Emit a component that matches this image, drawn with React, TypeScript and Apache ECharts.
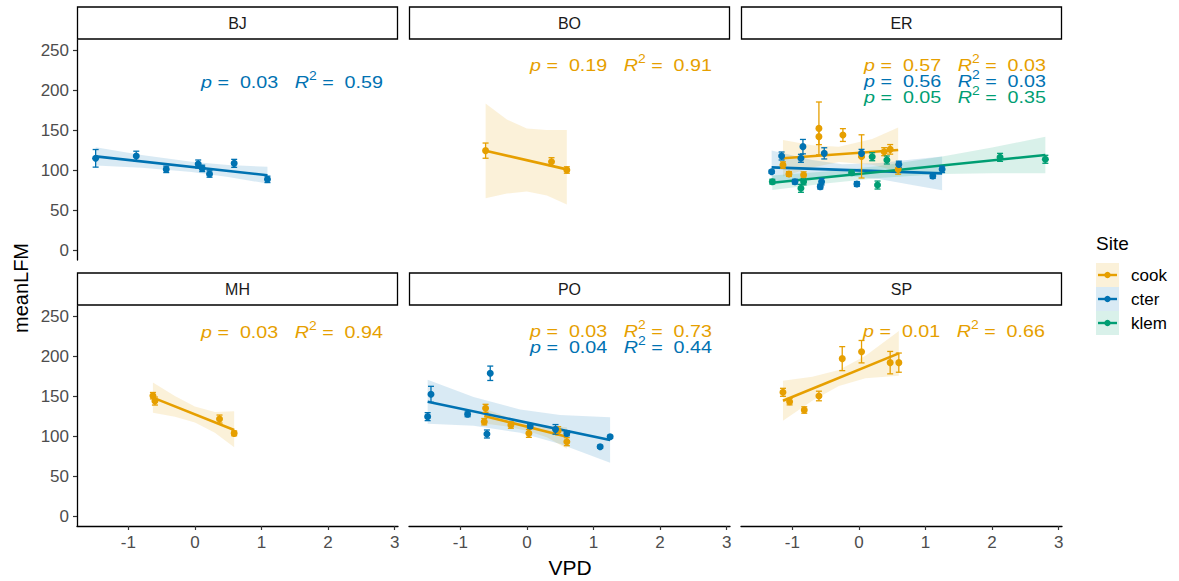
import React, { useEffect, useRef } from "react";
import * as echarts from "echarts";

const FONT = "'Liberation Sans', Arial, sans-serif";
const siteNames = ["cook", "cter", "klem"];
const siteColors = ["#E69F00", "#0072B2", "#009E73"];
const siteFills = ["rgba(230,159,0,0.15)", "rgba(0,114,178,0.15)", "rgba(0,158,115,0.15)"];
const panelNames = ["BJ", "BO", "ER", "MH", "PO", "SP"];
const xTicks = [-1, 0, 1, 2, 3];
const yTicks = [0, 50, 100, 150, 200, 250];

// ---- BJ / cter
const bjCterX = [-1.49, -0.88, -0.43, 0.05, 0.11, 0.22, 0.59, 1.09];
const bjCterY = [114.6, 117.5, 100.8, 107.5, 102, 95, 108.3, 88.3];
const bjCterSe = [11, 6, 4, 5, 4, 4, 5, 4];
const bjCterFitX = [-1.49, 1.09];
const bjCterFitY = [117, 93.5];
const bjCterBandX = [-1.49, -0.8, -0.05, 0.5, 1.09];
const bjCterBandLo = [105.5, 102.7, 97.4, 91.4, 83];
const bjCterBandHi = [128.5, 118.7, 110.4, 106.4, 104];

// ---- BO / cook
const boCookX = [-0.62, 0.37, 0.6];
const boCookY = [124.2, 110.4, 100];
const boCookSe = [9.5, 5, 4];
const boCookFitX = [-0.62, 0.6];
const boCookFitY = [124, 100.8];
const boCookBandX = [-0.62, -0.3, 0.0, 0.3, 0.6];
const boCookBandLo = [64.6, 70.5, 73, 68, 57];
const boCookBandHi = [183, 163, 152, 150, 150];

// ---- ER / cook
const erCookX = [-1.14, -1.05, -0.83, -0.6, -0.6, -0.24, 0.04, 0.38, 0.47, 0.59];
const erCookY = [106.2, 95, 93.7, 152, 141.7, 143.7, 117, 122.9, 125.8, 100.8];
const erCookSe = [4, 3, 4, 33, 10, 8, 27, 5, 6, 6];
const erCookFitX = [-1.14, 0.59];
const erCookFitY = [114.6, 125];
const erCookBandX = [-1.14, -0.7, -0.3, 0.2, 0.59];
const erCookBandLo = [92, 103, 110, 106.6, 98];
const erCookBandHi = [137.5, 131, 129, 138.6, 153];

// ---- ER / cter
const erCterX = [-1.31, -1.16, -0.96, -0.87, -0.84, -0.58, -0.56, -0.52, -0.03, 0.04, 0.6, 1.11, 1.25];
const erCterY = [97.9, 117.5, 85.4, 114.6, 129.2, 79.2, 85.4, 120.8, 82.5, 120.8, 107, 92.5, 100.8];
const erCterSe = [2, 5, 3, 5, 9, 3, 4, 7, 3, 5, 4, 3, 4];
const erCterFitX = [-1.31, 1.25];
const erCterFitY = [103.3, 95.8];
const erCterBandX = [-1.31, -0.7, -0.25, 0.3, 0.8, 1.25];
const erCterBandLo = [82.3, 90.5, 93.2, 88.6, 81.1, 74.8];
const erCterBandHi = [124.3, 112.5, 107.2, 108.6, 113.1, 116.8];

// ---- ER / klem
const erKlemX = [-1.3, -0.87, -0.83, -0.11, 0.2, 0.28, 0.42, 2.12, 2.8];
const erKlemY = [85.4, 77.1, 85.4, 96.6, 116.6, 81.2, 112.5, 115.8, 113.4];
const erKlemSe = [3, 5, 4, 3, 5, 5, 5, 5, 5];
const erKlemFitX = [-1.3, 2.8];
const erKlemFitY = [84.1, 118.75];
const erKlemBandX = [-1.3, -0.5, 0.3, 1.25, 2.0, 2.8];
const erKlemBandLo = [75, 83, 90, 95, 96, 95.8];
const erKlemBandHi = [93, 98, 105, 117, 128, 141.7];

// ---- MH / cook
const mhCookX = [-0.63, -0.6, 0.37, 0.59];
const mhCookY = [150.4, 143.7, 121.2, 103.3];
const mhCookSe = [4, 5, 5, 3];
const mhCookFitX = [-0.63, 0.59];
const mhCookFitY = [148, 107.5];
const mhCookBandX = [-0.63, -0.3, 0.0, 0.3, 0.59];
const mhCookBandLo = [129, 124, 117, 104, 86];
const mhCookBandHi = [167, 150, 137, 130, 131];

// ---- PO / cook
const poCookX = [-0.62, -0.64, -0.24, 0.03, 0.47, 0.6];
const poCookY = [134.6, 117.9, 113.7, 103.3, 106.6, 92.9];
const poCookSe = [5, 4, 4, 5, 5, 5];
const poCookFitX = [-0.64, 0.6];
const poCookFitY = [125, 99.1];
const poCookBandX = [-0.64, -0.3, 0.0, 0.3, 0.6];
const poCookBandLo = [115.5, 111.9, 106.6, 98.4, 84];
const poCookBandHi = [134.5, 123.9, 116.6, 112.4, 111];

// ---- PO / cter
const poCterX = [-1.49, -1.44, -0.89, -0.6, -0.55, 0.05, 0.43, 0.6, 1.1, 1.25];
const poCterY = [124.2, 152.1, 127.1, 102.5, 178.4, 112.5, 108.3, 103.3, 86.6, 99];
const poCterSe = [5, 10, 3, 5, 9, 3, 6, 3, 2, 2];
const poCterFitX = [-1.49, 1.25];
const poCterFitY = [142.9, 95];
const poCterBandX = [-1.49, -0.8, -0.1, 0.5, 1.25];
const poCterBandLo = [115.4, 112.8, 104.1, 90.1, 66.5];
const poCterBandHi = [170.4, 148.8, 133.1, 126.1, 123.5];

// ---- SP / cook
const spCookX = [-1.14, -1.04, -0.82, -0.6, -0.25, 0.04, 0.47, 0.6];
const spCookY = [154.6, 142.9, 132.5, 150, 196.7, 205.4, 191.7, 191.7];
const spCookSe = [5, 4, 4, 6, 15, 14, 14, 12];
const spCookFitX = [-1.14, 0.6];
const spCookFitY = [144, 203.3];
const spCookBandX = [-1.14, -0.7, -0.3, 0.1, 0.6];
const spCookBandLo = [119, 144, 162.6, 172.3, 175.3];
const spCookBandHi = [169, 174, 182.6, 200.3, 231.3];

// ---- stats labels
const statPanel = ["BJ", "BO", "ER", "ER", "ER", "MH", "PO", "PO", "SP"];
const statSite = ["cter", "cook", "cook", "cter", "klem", "cook", "cook", "cter", "cook"];
const statP = ["0.03", "0.19", "0.57", "0.56", "0.05", "0.03", "0.03", "0.04", "0.01"];
const statR2 = ["0.59", "0.91", "0.03", "0.03", "0.35", "0.94", "0.73", "0.44", "0.66"];

type Group = {
  panel: string; site: string;
  x: number[]; y: number[]; se: number[];
  fx: number[]; fy: number[];
  bx: number[]; lo: number[]; hi: number[];
};

const groups: Group[] = [
  { panel: "BJ", site: "cter", x: bjCterX, y: bjCterY, se: bjCterSe, fx: bjCterFitX, fy: bjCterFitY, bx: bjCterBandX, lo: bjCterBandLo, hi: bjCterBandHi },
  { panel: "BO", site: "cook", x: boCookX, y: boCookY, se: boCookSe, fx: boCookFitX, fy: boCookFitY, bx: boCookBandX, lo: boCookBandLo, hi: boCookBandHi },
  { panel: "ER", site: "cook", x: erCookX, y: erCookY, se: erCookSe, fx: erCookFitX, fy: erCookFitY, bx: erCookBandX, lo: erCookBandLo, hi: erCookBandHi },
  { panel: "ER", site: "cter", x: erCterX, y: erCterY, se: erCterSe, fx: erCterFitX, fy: erCterFitY, bx: erCterBandX, lo: erCterBandLo, hi: erCterBandHi },
  { panel: "ER", site: "klem", x: erKlemX, y: erKlemY, se: erKlemSe, fx: erKlemFitX, fy: erKlemFitY, bx: erKlemBandX, lo: erKlemBandLo, hi: erKlemBandHi },
  { panel: "MH", site: "cook", x: mhCookX, y: mhCookY, se: mhCookSe, fx: mhCookFitX, fy: mhCookFitY, bx: mhCookBandX, lo: mhCookBandLo, hi: mhCookBandHi },
  { panel: "PO", site: "cook", x: poCookX, y: poCookY, se: poCookSe, fx: poCookFitX, fy: poCookFitY, bx: poCookBandX, lo: poCookBandLo, hi: poCookBandHi },
  { panel: "PO", site: "cter", x: poCterX, y: poCterY, se: poCterSe, fx: poCterFitX, fy: poCterFitY, bx: poCterBandX, lo: poCterBandLo, hi: poCterBandHi },
  { panel: "SP", site: "cook", x: spCookX, y: spCookY, se: spCookSe, fx: spCookFitX, fy: spCookFitY, bx: spCookBandX, lo: spCookBandLo, hi: spCookBandHi },
];

// layout
const COL_LEFT = [77, 409, 741];
const ROW_TOP = [40, 306];
const PW = 321;
const PH = 220;
const STRIP_TOP = [7, 273];
const STRIP_H = 32;
const X_MIN = -1.77, X_MAX = 3.05, Y_MIN = -12.5, Y_MAX = 262.5;
const statPos: [number, number][] = [
  [383, 82], [712, 65], [1046, 65], [1046, 81], [1046, 97], [383, 332], [712, 331], [712, 347], [1045, 331],
];

function buildOption() {
  const grids: any[] = [];
  const xAxes: any[] = [];
  const yAxes: any[] = [];
  const graphics: any[] = [];
  panelNames.forEach((name, i) => {
    const col = i % 3, row = Math.floor(i / 3);
    grids.push({ left: COL_LEFT[col], top: ROW_TOP[row], width: PW, height: PH });
    const showX = row === 1;
    const showY = col === 0;
    xAxes.push({
      gridIndex: i, type: "value", min: X_MIN, max: X_MAX,
      splitLine: { show: false },
      axisLine: { show: showX, onZero: false, lineStyle: { color: "#000", width: 1.3 } },
      axisTick: { show: showX, customValues: xTicks, length: 4, lineStyle: { color: "#333", width: 1.2 } },
      axisLabel: { show: showX, customValues: xTicks, margin: 8, color: "#4D4D4D", fontSize: 17, fontFamily: FONT },
    });
    yAxes.push({
      gridIndex: i, type: "value", min: Y_MIN, max: Y_MAX,
      splitLine: { show: false },
      axisLine: { show: showY, onZero: false, lineStyle: { color: "#000", width: 1.3 } },
      axisTick: { show: showY, customValues: yTicks, length: 4, lineStyle: { color: "#333", width: 1.2 } },
      axisLabel: { show: showY, customValues: yTicks, margin: 8, color: "#4D4D4D", fontSize: 17, fontFamily: FONT },
    });
    // strip
    graphics.push({
      type: "rect",
      shape: { x: COL_LEFT[col] + 0.5, y: STRIP_TOP[row], width: PW - 1, height: STRIP_H },
      style: { fill: "#fff", stroke: "#000", lineWidth: 1.3 },
    });
    graphics.push({
      type: "text",
      x: COL_LEFT[col] + PW / 2, y: STRIP_TOP[row] + STRIP_H / 2,
      style: { text: name, align: "center", verticalAlign: "middle", fontSize: 16, fontFamily: FONT, fill: "#1a1a1a" },
    });
  });

  const series: any[] = [];
  // bands
  groups.forEach((g) => {
    const gi = panelNames.indexOf(g.panel);
    const si = siteNames.indexOf(g.site);
    const rows = g.bx.map((bx, k) => [bx, g.lo[k], g.hi[k]]);
    series.push({
      type: "custom", xAxisIndex: gi, yAxisIndex: gi, silent: true,
      data: rows, encode: { x: 0, y: [1, 2] },
      renderItem: (params: any, api: any) => {
        if (params.dataIndex !== 0) return null;
        const pts: number[][] = [];
        for (let k = 0; k < g.bx.length; k++) pts.push(api.coord([g.bx[k], g.hi[k]]));
        for (let k = g.bx.length - 1; k >= 0; k--) pts.push(api.coord([g.bx[k], g.lo[k]]));
        return { type: "polygon", shape: { points: pts }, style: { fill: siteFills[si], stroke: "none" } };
      },
      z: 1,
    });
  });
  groups.forEach((g) => {
    const gi = panelNames.indexOf(g.panel);
    const si = siteNames.indexOf(g.site);
    const color = siteColors[si];
    // fit line
    series.push({
      type: "line", xAxisIndex: gi, yAxisIndex: gi, silent: true,
      data: g.fx.map((fx, k) => [fx, g.fy[k]]),
      symbol: "none", lineStyle: { color, width: 2.6 }, z: 3,
    });
    // error bars
    series.push({
      type: "custom", xAxisIndex: gi, yAxisIndex: gi, silent: true,
      data: g.x.map((x, k) => [x, g.y[k], g.se[k]]),
      encode: { x: 0, y: 1 },
      renderItem: (params: any, api: any) => {
        const x = api.value(0), y = api.value(1), se = api.value(2);
        const t = api.coord([x, y + se]);
        const b = api.coord([x, y - se]);
        const w = 3;
        const st = { stroke: color, lineWidth: 1.3 };
        return {
          type: "group",
          children: [
            { type: "line", shape: { x1: t[0], y1: t[1], x2: b[0], y2: b[1] }, style: st },
            { type: "line", shape: { x1: t[0] - w, y1: t[1], x2: t[0] + w, y2: t[1] }, style: st },
            { type: "line", shape: { x1: b[0] - w, y1: b[1], x2: b[0] + w, y2: b[1] }, style: st },
          ],
        };
      },
      z: 4,
    });
    // points
    series.push({
      type: "scatter", xAxisIndex: gi, yAxisIndex: gi, silent: true,
      data: g.x.map((x, k) => [x, g.y[k]]),
      symbol: "circle", symbolSize: 7, itemStyle: { color, opacity: 1 }, z: 5,
    });
  });

  // stats labels
  statPanel.forEach((p, k) => {
    const color = siteColors[siteNames.indexOf(statSite[k])];
    graphics.push({
      type: "text", x: statPos[k][0], y: statPos[k][1], z: 10, scaleX: 1.16,
      style: {
        text: `{i|p}{n| =  ${statP[k]}   }{i|R}{s|2}{n| =  ${statR2[k]}}`,
        align: "right", verticalAlign: "middle",
        rich: {
          i: { fontStyle: "italic", fontSize: 17, fontFamily: FONT, fill: color, lineHeight: 16 },
          n: { fontSize: 17, fontFamily: FONT, fill: color, lineHeight: 16 },
          s: { fontSize: 12, fontFamily: FONT, fill: color, lineHeight: 4, height: 4, verticalAlign: "top" },
        },
      },
    });
  });

  // axis titles
  graphics.push({
    type: "text", x: 570, y: 567,
    style: { text: "VPD", align: "center", verticalAlign: "middle", fontSize: 21, fontFamily: FONT, fill: "#000" },
  });
  graphics.push({
    type: "text", x: 21, y: 288, rotation: Math.PI / 2,
    style: { text: "meanLFM", align: "center", verticalAlign: "middle", fontSize: 20, fontFamily: FONT, fill: "#000" },
  });

  // legend
  graphics.push({
    type: "text", x: 1096, y: 243,
    style: { text: "Site", align: "left", verticalAlign: "middle", fontSize: 19, fontFamily: FONT, fill: "#000" },
  });
  siteNames.forEach((s, k) => {
    const top = 263 + k * 24;
    const cy = top + 12;
    graphics.push({ type: "rect", shape: { x: 1096, y: top, width: 23, height: 24 }, style: { fill: siteFills[k] } });
    graphics.push({ type: "line", shape: { x1: 1098, y1: cy, x2: 1117, y2: cy }, style: { stroke: siteColors[k], lineWidth: 2.4 } });
    graphics.push({ type: "circle", shape: { cx: 1107.5, cy, r: 3.2 }, style: { fill: siteColors[k] } });
    graphics.push({
      type: "text", x: 1131, y: cy,
      style: { text: s, align: "left", verticalAlign: "middle", fontSize: 17, fontFamily: FONT, fill: "#000" },
    });
  });

  return {
    animation: false,
    backgroundColor: "#fff",
    grid: grids,
    xAxis: xAxes,
    yAxis: yAxes,
    series,
    graphic: { elements: graphics },
  };
}

export default function App() {
  const ref = useRef<HTMLDivElement>(null);
  useEffect(() => {
    if (!ref.current) return;
    const chart = echarts.init(ref.current, undefined, { renderer: "svg" });
    chart.setOption(buildOption() as any);
    return () => chart.dispose();
  }, []);
  return (
    <div
      ref={ref}
      style={{ position: "fixed", left: 0, top: 0, width: 1179, height: 581, background: "#fff" }}
    />
  );
}
